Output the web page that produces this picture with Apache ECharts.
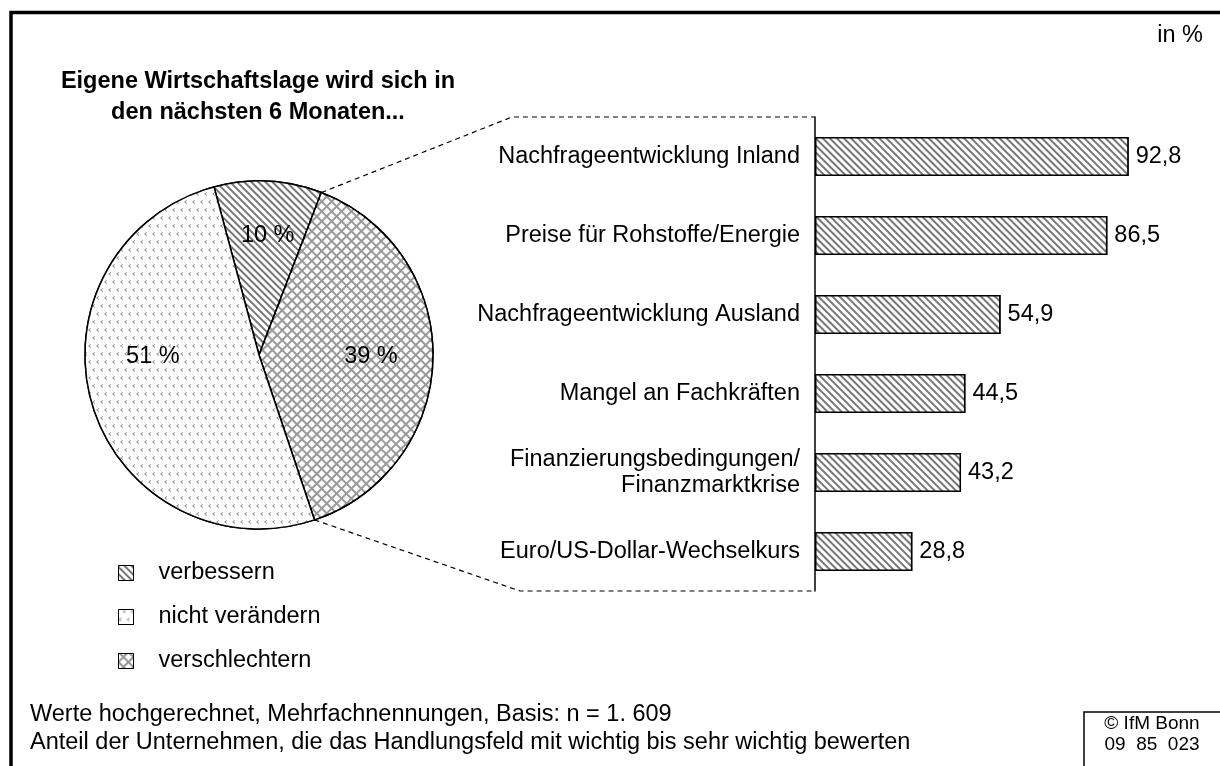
<!DOCTYPE html>
<html>
<head>
<meta charset="utf-8">
<script src="https://cdn.jsdelivr.net/npm/echarts@6/dist/echarts.min.js"></script>
<style>
  html, body { margin: 0; padding: 0; background: #fff; }
  #chart { width: 1220px; height: 766px; }
</style>
</head>
<body>
<div id="chart"></div>
<script>
var pieNames = ['verbessern', 'verschlechtern', 'nicht verändern'];
var pieValues = [10, 39, 51];
var legendOrder = ['verbessern', 'nicht verändern', 'verschlechtern'];

var barCategories = [
  'Nachfrageentwicklung Inland',
  'Preise für Rohstoffe/Energie',
  'Nachfrageentwicklung Ausland',
  'Mangel an Fachkräften',
  'Finanzierungsbedingungen/\nFinanzmarktkrise',
  'Euro/US-Dollar-Wechselkurs'
];
var barValues = [92.8, 86.5, 54.9, 44.5, 43.2, 28.8];

var FONT = '"Liberation Sans", Arial, sans-serif';
var FS = 23.5;

// muster
var hatch = { symbol: 'rect', color: '#777', backgroundColor: '#fff', dashArrayX: [1, 0], dashArrayY: [1.4, 2.8], rotation: Math.PI / 4 };
var cross = { symbol: 'rect', color: '#fff', dashArrayX: [4.6, 1.2], dashArrayY: [4.6, 1.2], rotation: Math.PI / 4 };
var chevron = {
  symbol: 'path://M3 0L0 2L3 4L3 3.1L1.4 2L3 0.9Z',
  symbolSize: 1, color: '#888', backgroundColor: '#fff',
  dashArrayX: [[3, 5], [0, 4, 3, 1]], dashArrayY: [3.5, 4]
};
var pieStyles = [
  { color: '#fff', decal: hatch },
  { color: '#999', decal: cross },
  { color: '#fff', decal: chevron }
];

var cx = 259, cy = 355, R = 174, startDeg = -15;
var labelShift = [[4, -30], [22, 0], [-20, -24]];

// punkte am kreisrand fuer die gestrichelten linien
var total = pieValues.reduce(function (a, b) { return a + b; }, 0);
function rim(deg) {
  var a = deg * Math.PI / 180;
  return [cx + R * Math.sin(a), cy - R * Math.cos(a)];
}
var a1 = startDeg + pieValues[0] / total * 360;
var a2 = a1 + pieValues[1] / total * 360;
var pTop = rim(a1), pBot = rim(a2);
var axisX = 815, gridTop = 117, gridBottom = 591;

var myChart = echarts.init(document.getElementById('chart'));

var option = {
  backgroundColor: '#fff',
  animation: false,
  textStyle: { fontFamily: FONT, color: '#000' },
  legend: {
    data: legendOrder,
    orient: 'vertical',
    left: 113,
    top: 556,
    itemWidth: 15,
    itemHeight: 15,
    itemGap: 20,
    icon: 'rect',
    itemStyle: { borderColor: '#000', borderWidth: 1 },
    textStyle: { fontSize: FS, color: '#000', fontFamily: FONT, padding: [0, 0, 0, 20] }
  },
  grid: { left: axisX, top: gridTop, right: 67, bottom: 766 - gridBottom, containLabel: false },
  xAxis: {
    type: 'value', min: 0, max: 100, show: false
  },
  yAxis: {
    type: 'category',
    inverse: true,
    data: barCategories,
    axisLine: { show: true, lineStyle: { color: '#000', width: 1.5 } },
    axisTick: { show: false },
    splitLine: { show: false },
    axisLabel: { fontSize: FS, color: '#000', fontFamily: FONT, margin: 15, lineHeight: 26, align: 'right' }
  },
  series: [
    {
      type: 'bar',
      data: barValues,
      barWidth: 39,
      itemStyle: { color: '#fff', borderColor: '#000', borderWidth: 1.5, decal: hatch },
      label: {
        show: true, position: 'right', distance: 7, fontSize: FS, color: '#000', fontFamily: FONT,
        formatter: function (p) { return String(p.value).replace('.', ','); }
      }
    },
    {
      type: 'pie',
      center: [cx, cy],
      radius: R,
      startAngle: 90 - startDeg,
      clockwise: true,
      avoidLabelOverlap: false,
      itemStyle: { borderColor: '#000', borderWidth: 1.5 },
      label: {
        show: true, position: 'inside', fontSize: FS, color: '#000', fontFamily: FONT,
        formatter: '{c} %'
      },
      labelLine: { show: false },
      labelLayout: function (p) {
        var s = labelShift[p.dataIndex];
        return { dx: s[0], dy: s[1] };
      },
      emphasis: { disabled: true },
      data: pieNames.map(function (n, i) {
        return { name: n, value: pieValues[i], itemStyle: pieStyles[i] };
      })
    }
  ],
  graphic: [
    { type: 'rect', shape: { x: 11, y: 12.5, width: 1240, height: 800 }, style: { fill: 'none', stroke: '#000', lineWidth: 3.5 }, silent: true },
    {
      type: 'text', x: 258, y: 66,
      style: { text: 'Eigene Wirtschaftslage wird sich in\nden nächsten 6 Monaten...', font: 'bold 23.5px ' + FONT, fill: '#000', align: 'center', lineHeight: 31 },
      silent: true
    },
    { type: 'text', right: 17, top: 24, style: { text: 'in %', font: FS + 'px ' + FONT, fill: '#000' } },
    {
      type: 'polyline', silent: true,
      shape: { points: [pTop, [512, gridTop], [axisX, gridTop]] },
      style: { fill: 'none', stroke: '#000', lineWidth: 1.2, lineDash: [5, 4] }
    },
    {
      type: 'polyline', silent: true,
      shape: { points: [pBot, [520, gridBottom], [axisX, gridBottom]] },
      style: { fill: 'none', stroke: '#000', lineWidth: 1.2, lineDash: [5, 4] }
    },
    { type: 'text', left: 30, top: 703, style: { text: 'Werte hochgerechnet, Mehrfachnennungen, Basis: n = 1. 609', font: FS + 'px ' + FONT, fill: '#000' } },
    { type: 'text', left: 30, top: 731, style: { text: 'Anteil der Unternehmen, die das Handlungsfeld mit wichtig bis sehr wichtig bewerten', font: FS + 'px ' + FONT, fill: '#000' } },
    { type: 'rect', shape: { x: 1084, y: 712, width: 200, height: 100 }, style: { fill: '#fff', stroke: '#000', lineWidth: 1.5 } },
    { type: 'text', x: 1152, y: 711, style: { text: '© IfM Bonn\n09  85  023', font: '19px ' + FONT, fill: '#000', align: 'center', lineHeight: 21, padding: [2, 0, 0, 0] } }
  ]
};
myChart.setOption(option);
</script>
</body>
</html>
